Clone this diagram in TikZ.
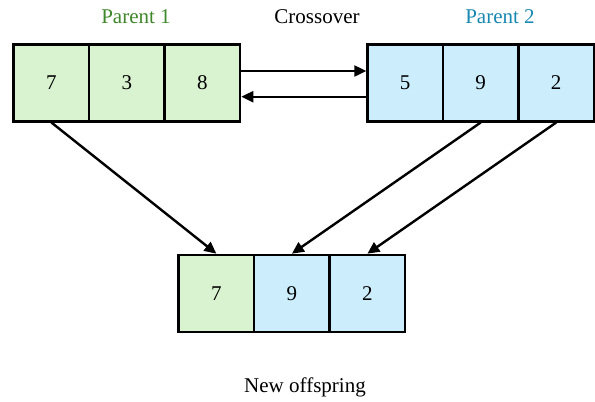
\documentclass[tikz,border=0pt]{standalone}
\usepackage{fontspec}
\setmainfont{Liberation Serif}
\usetikzlibrary{arrows.meta}
\definecolor{greenfill}{RGB}{217,242,208}
\definecolor{bluefill}{RGB}{204,237,251}
\definecolor{greentext}{RGB}{62,135,42}
\definecolor{bluetext}{RGB}{24,136,178}
\tikzset{
  gene/.style={draw=black, line width=2.4pt, minimum width=75.5pt, minimum height=77pt,
               inner sep=0pt, font=\fontsize{21}{25}\selectfont},
  gg/.style={gene, fill=greenfill},
  bg/.style={gene, fill=bluefill},
  lbl/.style={font=\fontsize{21}{25}\selectfont, inner sep=0pt},
  arr/.style={line width=2.4pt, -{Triangle[length=12pt,width=11pt]}}
}
\begin{document}
\begin{tikzpicture}[x=1pt,y=-1pt]
\useasboundingbox (0,0) rectangle (595,402);
% parent 1
\node[gg] (p1a) at (51.4,82.8) {7};
\node[gg] (p1b) at (126.9,82.8) {3};
\node[gg] (p1c) at (202.4,82.8) {8};
% parent 2
\node[bg] (p2a) at (405.2,82.8) {5};
\node[bg] (p2b) at (480.7,82.8) {9};
\node[bg] (p2c) at (556.2,82.8) {2};
% offspring
\node[gg] (o1) at (216.4,293.4) {7};
\node[bg] (o2) at (291.9,293.4) {9};
\node[bg] (o3) at (367.4,293.4) {2};
% titles
\node[lbl, text=greentext] (t1) at (136,17) {Parent 1};
\node[lbl] (t2) at (317,17) {Crossover};
\node[lbl, text=bluetext] (t3) at (500,17) {Parent 2};
\node[lbl] (t4) at (305,387) {New offspring};
% exchange arrows
\draw[arr] ([yshift=11.8pt]p1c.east) -- ([yshift=11.8pt]p2a.west);
\draw[arr] ([yshift=-13.9pt]p2a.west) -- ([yshift=-13.9pt]p1c.east);
% inheritance arrows
\draw[arr] (p1a.south) -- (o1.north);
\draw[arr] (p2b.south) -- (o2.north);
\draw[arr] (p2c.south) -- (o3.north);
\end{tikzpicture}
\end{document}
